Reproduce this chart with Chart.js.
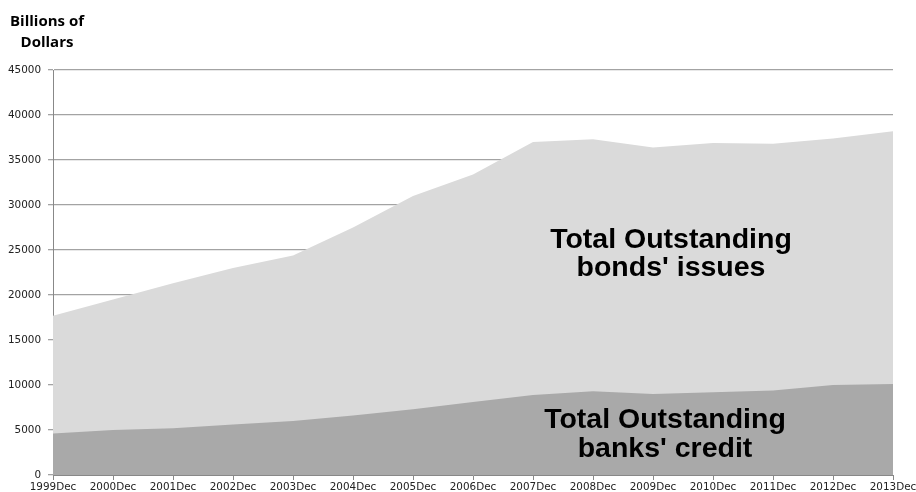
<!DOCTYPE html>
<html>
<head>
<meta charset="utf-8">
<script src="https://cdn.jsdelivr.net/npm/chart.js@4/dist/chart.umd.min.js"></script>
<style>
  html, body { margin: 0; padding: 0; background: #fff; }
  #chart { display: block; }
</style>
</head>
<body>
<canvas id="chart" width="916" height="492"></canvas>
<script>
// Outstanding amounts, billions of dollars, year-end
const years = ['1999Dec', '2000Dec', '2001Dec', '2002Dec', '2003Dec', '2004Dec', '2005Dec',
    '2006Dec', '2007Dec', '2008Dec', '2009Dec', '2010Dec', '2011Dec', '2012Dec', '2013Dec'];
const bondIssues = [17700, 19500, 21300, 23000, 24400, 27500, 31000,
    33400, 37000, 37300, 36400, 36900, 36800, 37400, 38200];
const bankCredit = [4600, 5000, 5200, 5600, 6000, 6600, 7300,
    8100, 8900, 9300, 9000, 9200, 9400, 10000, 10100];
const yTicks = [0, 5000, 10000, 15000, 20000, 25000, 30000, 35000, 40000, 45000];

const tickFont = { family: 'DejaVu Sans', size: 10.4 };

// Axis caption and the two big in-chart labels
const annotations = {
    id: 'annotations',
    afterDraw(chart) {
        const ctx = chart.ctx;
        const x = chart.scales.x;
        const y = chart.scales.y;
        ctx.save();
        ctx.fillStyle = '#000';
        ctx.textAlign = 'center';
        ctx.textBaseline = 'middle';

        ctx.font = 'bold 15px "Open Sans"';
        ctx.fillText('Billions of', 47, 22);
        ctx.fillText('Dollars', 47, 43);

        ctx.font = 'bold 28.5px "Liberation Sans"';
        const bx = x.getPixelForValue(10.3);
        ctx.fillText('Total Outstanding', bx, y.getPixelForValue(26100));
        ctx.fillText("bonds' issues", bx, y.getPixelForValue(23000));

        const cx = x.getPixelForValue(10.2);
        ctx.fillText('Total Outstanding', cx, y.getPixelForValue(6100));
        ctx.fillText("banks' credit", cx, y.getPixelForValue(2900));
        ctx.restore();
    }
};

new Chart(document.getElementById('chart'), {
    type: 'line',
    data: {
        labels: years,
        datasets: [
            {
                label: "banks' credit",
                data: bankCredit,
                fill: 'origin',
                backgroundColor: '#a9a9a9',
                borderWidth: 0,
                pointRadius: 0,
                tension: 0
            },
            {
                label: "bonds' issues",
                data: bondIssues,
                fill: 'origin',
                backgroundColor: '#dadada',
                borderWidth: 0,
                pointRadius: 0,
                tension: 0
            }
        ]
    },
    options: {
        responsive: false,
        animation: false,
        devicePixelRatio: 1,
        layout: { padding: { top: 70, right: 23, left: 0, bottom: 0 } },
        plugins: {
            legend: { display: false },
            tooltip: { enabled: false }
        },
        scales: {
            x: {
                z: 1,
                offset: false,
                grid: { drawOnChartArea: false, drawTicks: true, tickLength: 5, color: '#888' },
                border: { color: '#888', width: 1 },
                ticks: { font: tickFont, color: '#222', maxRotation: 0, autoSkip: false, padding: 1 },
                afterFit(scale) {
                    scale.height = 17;
                    scale.paddingLeft = 0;
                    scale.paddingRight = 0;
                }
            },
            y: {
                z: 1,
                min: 0,
                max: 45000,
                afterBuildTicks(scale) {
                    scale.ticks = yTicks.map(v => ({ value: v }));
                },
                grid: { color: '#a3a3a3', lineWidth: 1.3, tickLength: 5 },
                border: { color: '#888', width: 1 },
                ticks: { font: tickFont, color: '#222', padding: 7, callback: v => String(v) },
                afterFit(scale) { scale.width = 53; }
            }
        }
    },
    plugins: [annotations]
});
</script>
</body>
</html>
